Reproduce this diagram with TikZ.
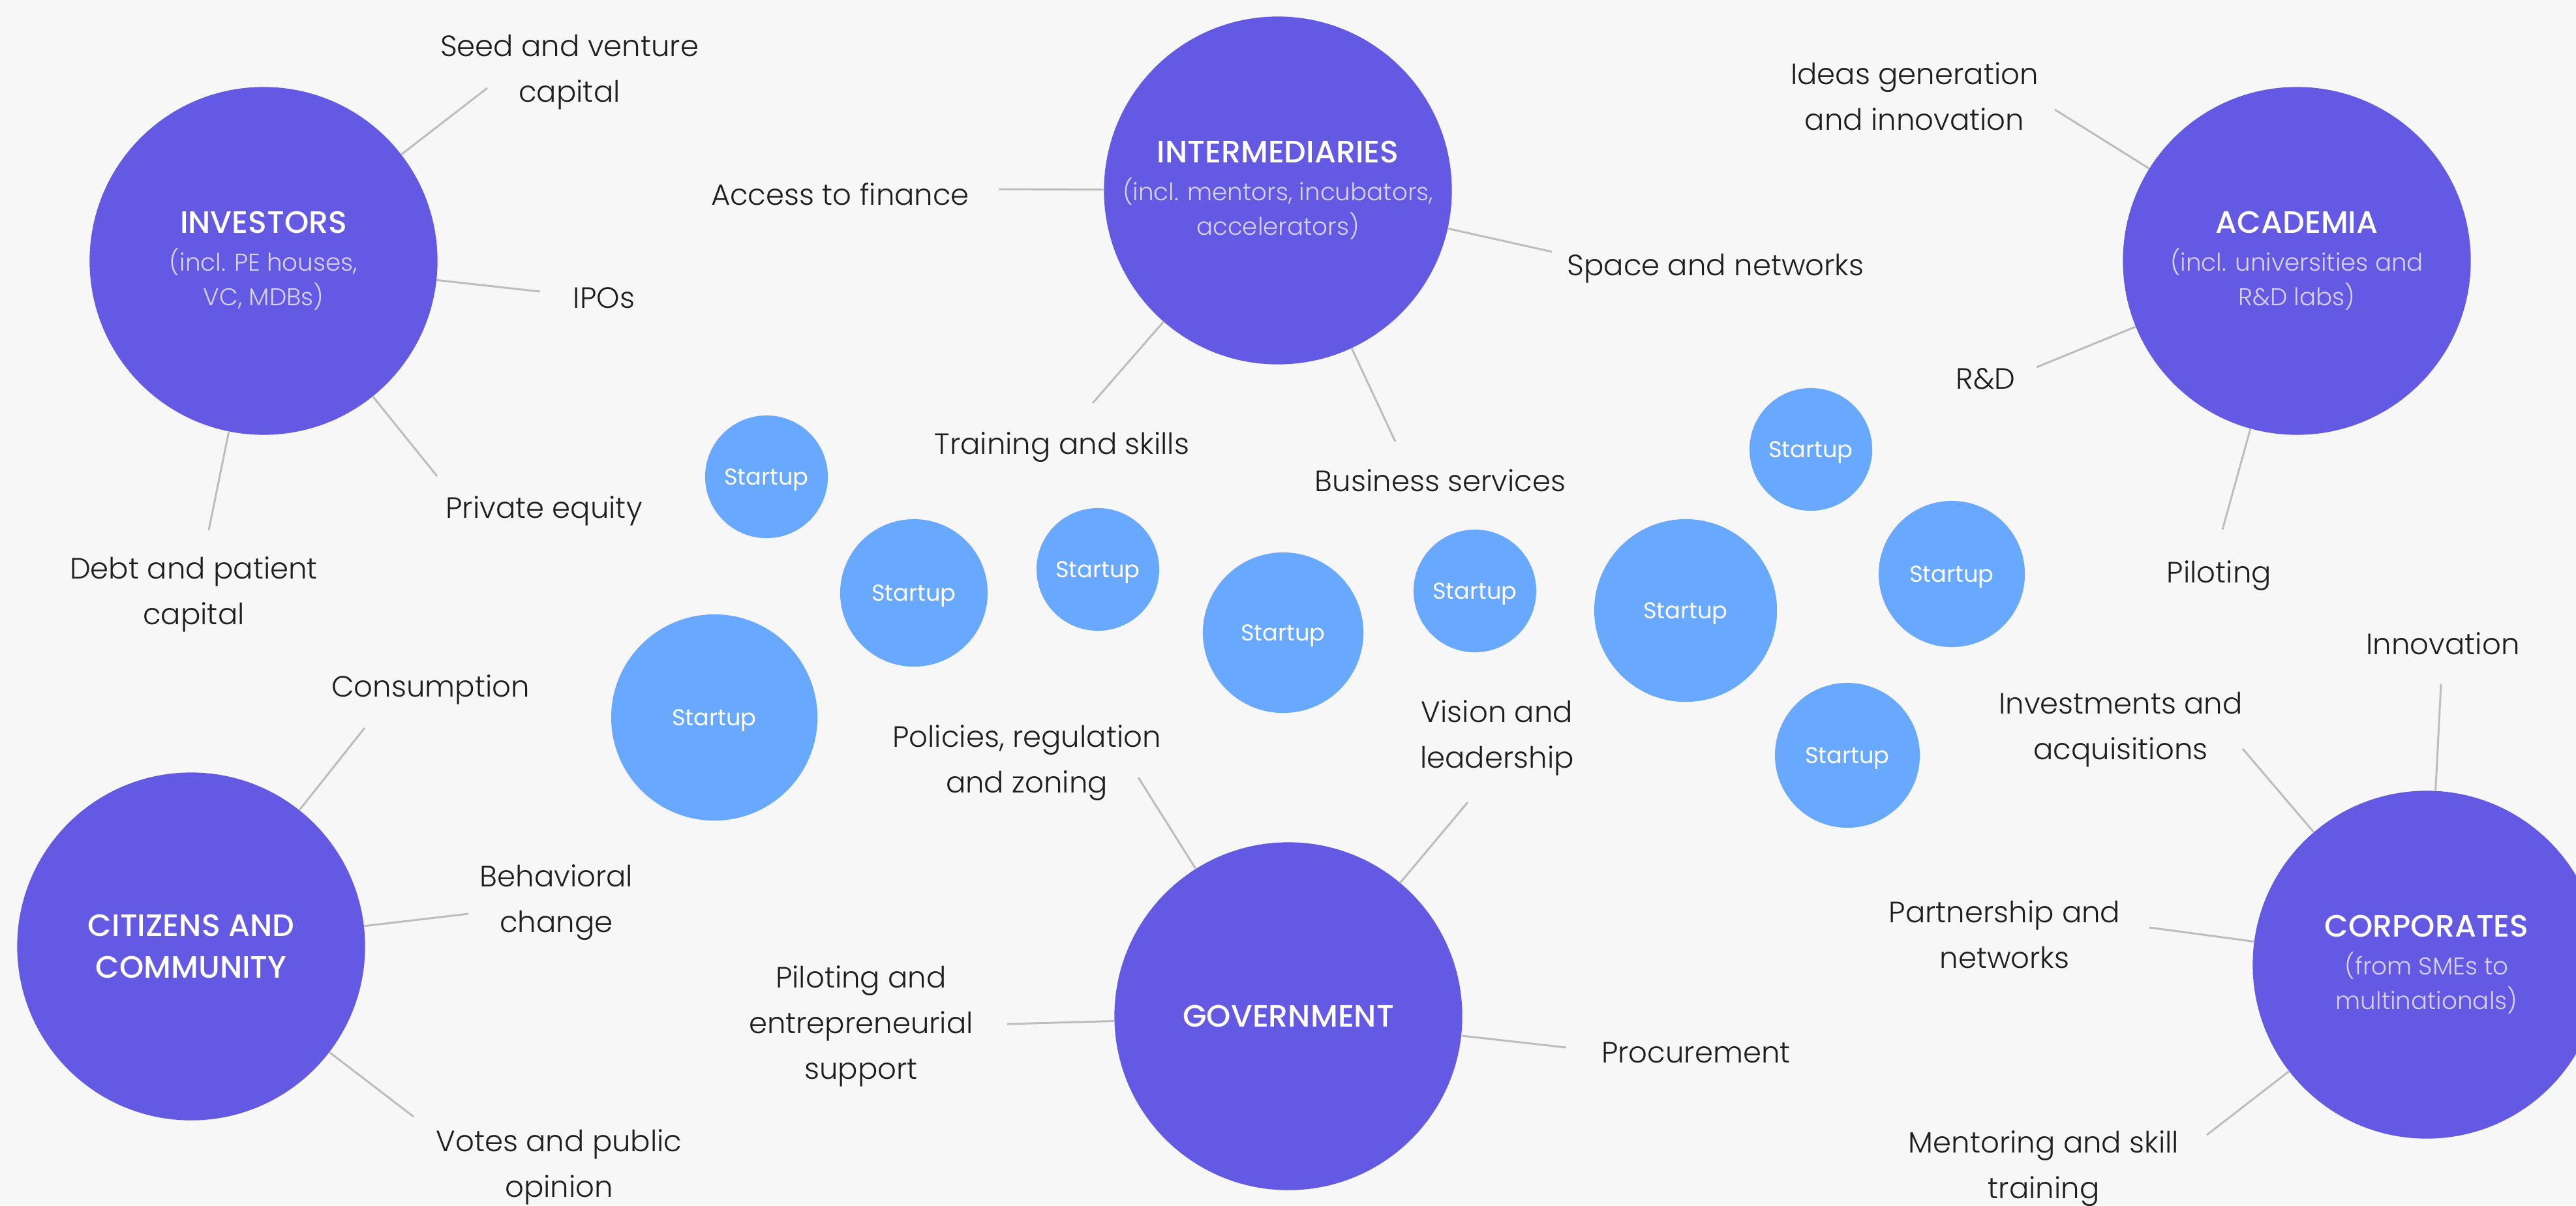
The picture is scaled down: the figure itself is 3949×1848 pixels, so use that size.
\documentclass[tikz,border=0pt]{standalone}
\usepackage{fontspec}
\setmainfont{Poppins}[UprightFont=* Light, BoldFont=* Medium]
\newfontfamily\popreg{Poppins}

\definecolor{canvas}{HTML}{F7F7F7}
\definecolor{hubfill}{HTML}{6359E3}
\definecolor{startfill}{HTML}{69A8FF}
\definecolor{subtext}{HTML}{D6D2FA}
\definecolor{linkgrey}{HTML}{BDBDBD}
\definecolor{ink}{HTML}{1E1E1E}

\newcommand\lblfont{\fontsize{12.8pt}{19.9pt}\selectfont}
\newcommand\hubfont{\fontsize{10.6pt}{15pt}\selectfont}
\newcommand\hubname[1]{{\bfseries\color{white}\fontsize{13.5pt}{16.5pt}\selectfont #1}}
\newcommand\startfont{\popreg\fontsize{10pt}{12pt}\selectfont}

\tikzset{
  hub/.style={circle,fill=hubfill,minimum size=5.33cm,inner sep=0pt,
    align=center,text=subtext,font=\hubfont},
  startup/.style={circle,fill=startfill,inner sep=0pt,text depth=0pt,
    text=white,font=\startfont},
  lbl/.style={align=center,text=ink,font=\lblfont},
  link/.style={draw=linkgrey,line width=0.85pt}
}

\begin{document}
\begin{tikzpicture}[x=0.01cm,y=-0.01cm]
\useasboundingbox (0,0) rectangle (3949,1848);
\fill[canvas] (0,0) rectangle (3949,1848);
\clip (0,0) rectangle (3949,1848);

% Actores principales
\node[hub] (investors) at (404,400) {\hubname{INVESTORS}\\[1.5pt](incl. PE houses,\\VC, MDBs)};
\node[hub] (intermed) at (1959,292) {\hubname{INTERMEDIARIES}\\[1.5pt](incl. mentors, incubators,\\accelerators)};
\node[hub] (academia) at (3521,400) {\hubname{ACADEMIA}\\[1.5pt](incl. universities and\\R\&D labs)};
\node[hub] (citizens) at (293,1451) {\hubname{CITIZENS AND}\\[3pt]\hubname{COMMUNITY}};
\node[hub] (government) at (1975,1558) {\hubname{GOVERNMENT}};
\node[hub] (corporates) at (3720,1479) {\hubname{CORPORATES}\\[1.5pt](from SMEs to\\multinationals)};

% Startups
\foreach \x/\y/\d [count=\i] in {1175/731/1.88cm, 1401/909/2.26cm, 1683/873/1.88cm,
    1967/970/2.46cm, 2261/906/1.88cm, 2584/936/2.80cm, 2776/689/1.88cm,
    2992/880/2.24cm, 2832/1158/2.22cm, 1095/1100/3.16cm}
  \node[startup,minimum size=\d] (startup\i) at (\x,\y) {Startup};

% Etiquetas
\node[lbl] (seed) at (873,111) {Seed and venture\\capital};
\node[lbl] (ipos) at (926,457) {IPOs};
\node[lbl] (privequity) at (834,783) {Private equity};
\node[lbl] (debt) at (297,911) {Debt and patient\\capital};
\node[lbl] (finance) at (1288,298) {Access to finance};
\node[lbl] (space) at (2630,412) {Space and networks};
\node[lbl] (training) at (1628,686) {Training and skills};
\node[lbl] (business) at (2208,737) {Business services};
\node[lbl] (ideas) at (2935,148) {Ideas generation\\and innovation};
\node[lbl] (rnd) at (3044,581) {R\&D};
\node[lbl] (piloting) at (3402,883) {Piloting};
\node[lbl] (policies) at (1574,1170) {Policies, regulation\\and zoning};
\node[lbl] (vision) at (2295,1131) {Vision and\\leadership};
\node[lbl] (support) at (1320,1573) {Piloting and\\entrepreneurial\\support};
\node[lbl] (procure) at (2600,1614) {Procurement};
\node[lbl] (consumption) at (660,1057) {Consumption};
\node[lbl] (behaviour) at (853,1384) {Behavioral\\change};
\node[lbl] (votes) at (857,1789) {Votes and public\\opinion};
\node[lbl] (innovation) at (3745,987) {Innovation};
\node[lbl] (investments) at (3251,1119) {Investments and\\acquisitions};
\node[lbl] (partnership) at (3073,1433) {Partnership and\\networks};
\node[lbl] (mentoring) at (3133,1792) {Mentoring and skill\\training};

% Extremos libres de las lineas
\coordinate (seed-end) at (747,135);
\coordinate (ipos-end) at (828,447);
\coordinate (privequity-end) at (670,730);
\coordinate (debt-end) at (320,813);
\coordinate (finance-end) at (1531,290);
\coordinate (space-end) at (2379,386);
\coordinate (training-end) at (1675,618);
\coordinate (business-end) at (2139,677);
\coordinate (ideas-end) at (3150,168);
\coordinate (rnd-end) at (3122,563);
\coordinate (piloting-end) at (3407,812);
\coordinate (policies-end) at (1745,1192);
\coordinate (vision-end) at (2250,1230);
\coordinate (support-end) at (1544,1570);
\coordinate (procure-end) at (2401,1606);
\coordinate (consumption-end) at (559,1116);
\coordinate (behaviour-end) at (718,1401);
\coordinate (votes-end) at (634,1712);
\coordinate (innovation-end) at (3742,1049);
\coordinate (investments-end) at (3438,1148);
\coordinate (partnership-end) at (3295,1422);
\coordinate (mentoring-end) at (3383,1740);

% Lineas
\foreach \a/\b in {investors/seed, investors/ipos, investors/privequity, investors/debt,
    intermed/finance, intermed/space, intermed/training, intermed/business,
    academia/ideas, academia/rnd, academia/piloting,
    government/policies, government/vision, government/support, government/procure,
    citizens/consumption, citizens/behaviour, citizens/votes,
    corporates/innovation, corporates/investments, corporates/partnership, corporates/mentoring}
  \draw[link] (\a) -- (\b-end);
\end{tikzpicture}
\end{document}
